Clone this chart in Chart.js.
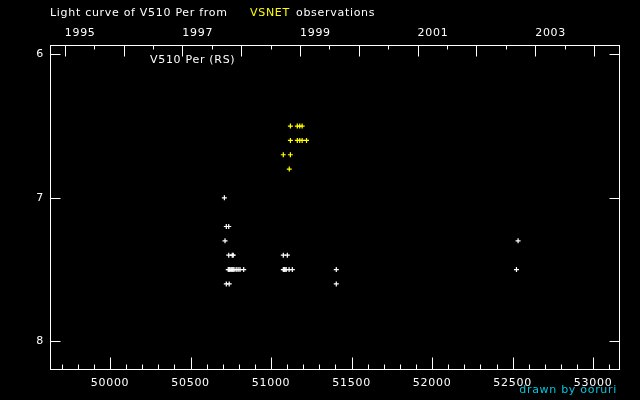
<!DOCTYPE html>
<html>
<head>
<meta charset="utf-8">
<script src="https://cdn.jsdelivr.net/npm/chart.js@4"></script>
<style>
body { margin: 0; background: #000; }
canvas { display: block; }
</style>
</head>
<body>
<canvas id="mycanvas" width="640" height="400"></canvas>
<script>
// observations (JD - 2400000, magnitude)
var whiteJD  = [50710, 50722, 50737, 50714, 50737, 50759, 50765, 51076, 51101,
                50734, 50740, 50745, 50752, 50758, 50764, 50770, 50783, 50795, 50807, 50830,
                51076, 51082, 51087, 51094, 51112, 51132, 51405,
                50722, 50740, 51405, 52534, 52524];
var whiteMag = [7.0, 7.2, 7.2, 7.3, 7.4, 7.4, 7.4, 7.4, 7.4,
                7.5, 7.5, 7.5, 7.5, 7.5, 7.5, 7.5, 7.5, 7.5, 7.5, 7.5,
                7.5, 7.5, 7.5, 7.5, 7.5, 7.5, 7.5,
                7.6, 7.6, 7.6, 7.3, 7.5];
var yellowJD  = [51120, 51163, 51178, 51193, 51120, 51163, 51178, 51193, 51220, 51076, 51120, 51113];
var yellowMag = [6.5, 6.5, 6.5, 6.5, 6.6, 6.6, 6.6, 6.6, 6.6, 6.7, 6.7, 6.8];

var jdTicks = [50000, 50500, 51000, 51500, 52000, 52500, 53000];
var yearLabels = [1995, 1997, 1999, 2001, 2003];
var magTicks = [6, 7, 8];

var jdMin = 49627, jdMax = 53167;
var magMin = 5.935, magMax = 8.2;

function toPoints(xs, ys) {
	var pts = [];
	for (var i in xs) {
		pts.push({x: xs[i], y: ys[i]});
	}
	return pts;
}

var FONT = "11px 'DejaVu Sans'";

var frame = {
	id: 'frame',
	afterDraw: function(chart) {
		var c = chart.ctx;
		var a = chart.chartArea;
		var sx = chart.scales.x, sy = chart.scales.y;
		var L = Math.round(a.left) + 0.5, R = Math.round(a.right) - 0.5;
		var T = Math.round(a.top) + 0.5, B = Math.round(a.bottom) - 0.5;
		c.save();
		c.strokeStyle = '#fff';
		c.lineWidth = 1;
		c.strokeRect(L, T, R - L, B - T);

		c.beginPath();
		// bottom axis: JD
		for (var d = 49700; d <= 53100; d += 100) {
			var px = Math.round(sx.getPixelForValue(d)) + 0.5;
			var len = (d % 500 === 0) ? 12 : 5;
			c.moveTo(px, B); c.lineTo(px, B - len);
		}
		// top axis: years
		for (var h = 1995; h <= 2004.4; h += 0.5) {
			var jd = 49718.5 + (h - 1995) * 365.25;
			var px2 = Math.round(sx.getPixelForValue(jd)) + 0.5;
			var len2 = (h % 1 === 0) ? 11 : 4;
			c.moveTo(px2, T); c.lineTo(px2, T + len2);
		}
		// magnitude ticks, both sides
		for (var k in magTicks) {
			var py = Math.round(sy.getPixelForValue(magTicks[k])) + 0.5;
			c.moveTo(L, py); c.lineTo(L + 10, py);
			c.moveTo(R, py); c.lineTo(R - 10, py);
		}
		c.stroke();

		c.font = FONT;
		c.letterSpacing = '0.7px';
		c.fillStyle = '#fff';
		c.textBaseline = 'middle';
		c.textAlign = 'center';
		for (var j in jdTicks) {
			c.fillText(String(jdTicks[j]), sx.getPixelForValue(jdTicks[j]), 383);
		}
		c.textAlign = 'left';
		for (var y in yearLabels) {
			var jy = 49718.5 + (yearLabels[y] - 1995) * 365.25;
			c.fillText(String(yearLabels[y]), sx.getPixelForValue(jy), 33);
		}
		c.textAlign = 'right';
		for (var m in magTicks) {
			c.fillText(String(magTicks[m]), 44, sy.getPixelForValue(magTicks[m]));
		}

		c.textAlign = 'left';
		c.fillText('Light curve of V510 Per from', 50, 13);
		c.fillStyle = '#ffff00';
		c.fillText('VSNET', 250, 13);
		c.fillStyle = '#fff';
		c.fillText('observations', 296, 13);
		c.fillText('V510 Per (RS)', 150, 60);
		c.fillStyle = '#00c8e0';
		c.textAlign = 'right';
		c.fillText('drawn by ooruri', 617, 390);
		c.restore();
	}
};

var ctx = document.getElementById('mycanvas');

var chart = new Chart(ctx, {
	type: 'scatter',
	data: {
		datasets: [
			{
				label: 'VSNET',
				data: toPoints(yellowJD, yellowMag),
				pointStyle: 'cross',
				pointRadius: 2.5,
				borderColor: '#ffff00',
				borderWidth: 1.2
			},
			{
				label: 'other',
				data: toPoints(whiteJD, whiteMag),
				pointStyle: 'cross',
				pointRadius: 2.5,
				borderColor: '#ffffff',
				borderWidth: 1.2
			}
		]
	},
	options: {
		responsive: false,
		animation: false,
		layout: {padding: {left: 50, top: 45, right: 20, bottom: 30}},
		plugins: {legend: {display: false}, tooltip: {enabled: false}},
		scales: {
			x: {type: 'linear', min: jdMin, max: jdMax, display: false},
			y: {type: 'linear', min: magMin, max: magMax, reverse: true, display: false}
		}
	},
	plugins: [frame]
});
</script>
</body>
</html>
